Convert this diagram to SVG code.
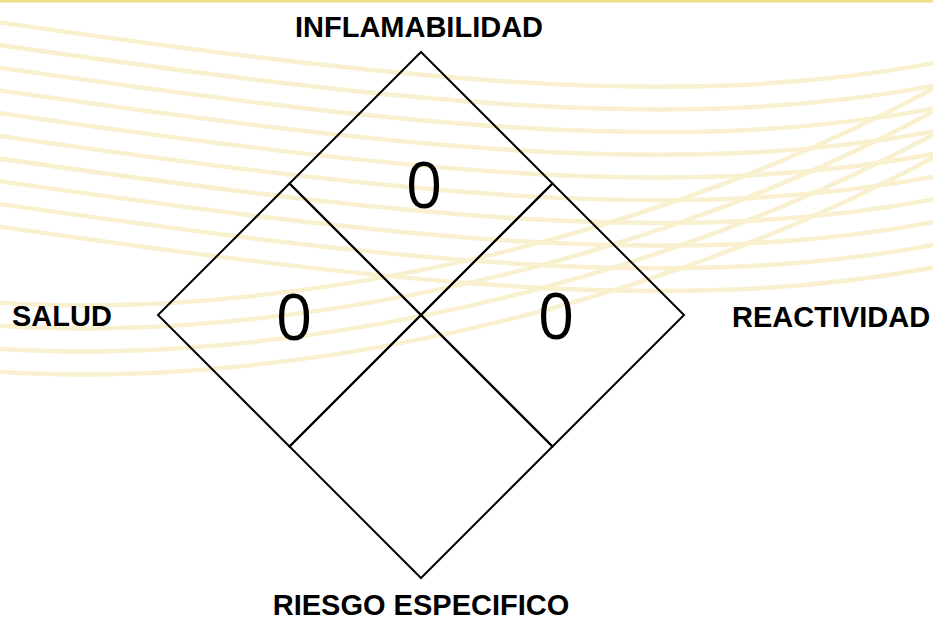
<svg xmlns="http://www.w3.org/2000/svg" width="933" height="621" viewBox="0 0 933 621">
  <style>
    .bg { fill: none; stroke: #f9f0cf; stroke-width: 4.5; }
    .cell { fill: none; stroke: #000; stroke-width: 2; stroke-linejoin: miter; }
    .num { font-family: "Open Sans", "Liberation Sans", Arial, sans-serif; font-weight: 400; font-size: 64px; fill: #000; text-anchor: middle; }
    .lbl { font-family: "Liberation Sans", Arial, sans-serif; font-weight: bold; font-size: 29px; fill: #000; }
  </style>
  <defs>
    <path id="waveA" d="M -10,21 C 400,80 680,112 940,62"/>
    <path id="waveB" d="M -10,302 C 220,320 600,270 940,85"/>
  </defs>
  <rect x="0" y="0" width="933" height="621" fill="#ffffff"/>
  <g id="background">
    <use href="#waveA" class="bg"/>
    <use href="#waveA" class="bg" transform="translate(0,22.7)"/>
    <use href="#waveA" class="bg" transform="translate(0,45.4)"/>
    <use href="#waveA" class="bg" transform="translate(0,68.1)"/>
    <use href="#waveA" class="bg" transform="translate(0,90.8)"/>
    <use href="#waveA" class="bg" transform="translate(0,113.5)"/>
    <use href="#waveA" class="bg" transform="translate(0,136.2)"/>
    <use href="#waveA" class="bg" transform="translate(0,158.9)"/>
    <use href="#waveA" class="bg" transform="translate(0,181.6)"/>
    <use href="#waveA" class="bg" transform="translate(0,204.3)"/>
    <use href="#waveB" class="bg"/>
    <use href="#waveB" class="bg" transform="translate(0,23)"/>
    <use href="#waveB" class="bg" transform="translate(0,46)"/>
    <use href="#waveB" class="bg" transform="translate(0,69)"/>
    <rect x="0" y="0" width="933" height="2.5" fill="#f0de88"/>
  </g>
  <g id="connectors"></g>
  <g id="flamabilidad">
    <polygon class="cell" points="421,52 552.5,183.5 421,315 289.5,183.5"/>
    <text class="num" x="424" y="208">0</text>
  </g>
  <g id="salud">
    <polygon class="cell" points="289.5,183.5 421,315 289.5,446.5 158,315"/>
    <text class="num" x="294" y="340">0</text>
  </g>
  <g id="reactividad">
    <polygon class="cell" points="552.5,183.5 684,315 552.5,446.5 421,315"/>
    <text class="num" x="556" y="339">0</text>
  </g>
  <g id="riesgo-especifico">
    <polygon class="cell" points="421,315 552.5,446.5 421,578 289.5,446.5"/>
  </g>
  <g id="labels">
    <text class="lbl" x="419" y="37" text-anchor="middle">INFLAMABILIDAD</text>
    <text class="lbl" x="12" y="326">SALUD</text>
    <text class="lbl" x="732" y="327">REACTIVIDAD</text>
    <text class="lbl" x="421" y="615" text-anchor="middle">RIESGO ESPECIFICO</text>
  </g>
</svg>
